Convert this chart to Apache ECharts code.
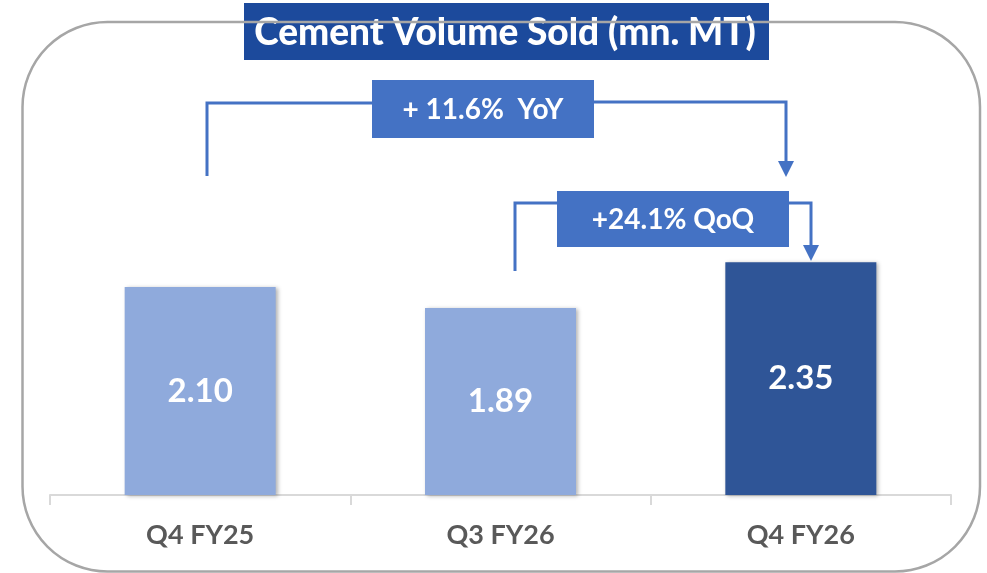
<!DOCTYPE html>
<html>
<head>
<meta charset="utf-8">
<script src="https://cdn.jsdelivr.net/npm/echarts@6/dist/echarts.min.js"></script>
<style>
html,body{margin:0;padding:0;background:#fff;}
#c{width:987px;height:573px;}
</style>
</head>
<body>
<div id="c"></div>
<script>
const titleText = 'Cement Volume Sold (mn. MT)';
const categories = ['Q4 FY25', 'Q3 FY26', 'Q4 FY26'];
const values = [2.10, 1.89, 2.35];
const yoyLabel = '+ 11.6%  YoY';
const qoqLabel = '+24.1% QoQ';

const FONT = 'Lato, "Open Sans", sans-serif';
const LINE = '#4472C4';
const chart = echarts.init(document.getElementById('c'), null, {renderer: 'canvas'});

function poly(points) {
  return {type: 'polyline', z: 5, shape: {points: points},
    style: {stroke: LINE, lineWidth: 3, fill: null}};
}
function arrow(x, yTip) {
  return {type: 'polygon', z: 5, shape: {points: [[x - 8, yTip - 16], [x + 8, yTip - 16], [x, yTip]]},
    style: {fill: LINE}};
}
function box(x, y, w, h, text, size) {
  return {type: 'group', z: 6, children: [
    {type: 'rect', shape: {x: x, y: y, width: w, height: h}, style: {fill: LINE}},
    {type: 'text', x: x + w / 2, y: y + h / 2 + 1,
      style: {text: text, fill: '#fff', font: 'bold ' + size + 'px ' + FONT, align: 'center', verticalAlign: 'middle'}}
  ]};
}

chart.setOption({
  animation: false,
  grid: {left: 50, right: 36, top: 99, bottom: 78},
  xAxis: {
    type: 'category', data: categories,
    axisLine: {lineStyle: {color: '#D9D9D9', width: 2}},
    axisTick: {show: true, length: 10, lineStyle: {color: '#D9D9D9', width: 2}},
    axisLabel: {color: '#595959', fontFamily: FONT, fontWeight: 'bold', fontSize: 27, margin: 27}
  },
  yAxis: {type: 'value', min: 0, max: 4, show: false, splitLine: {show: false}},
  series: [{
    type: 'bar', data: values, barWidth: 151,
    itemStyle: {
      color: p => p.dataIndex === values.length - 1 ? '#2F5597' : '#8FAADC',
      shadowColor: 'rgba(0,0,0,0.3)', shadowBlur: 4, shadowOffsetX: 2, shadowOffsetY: 1
    },
    label: {show: true, position: 'inside', color: '#fff', fontFamily: FONT, fontWeight: 'bold', fontSize: 33,
      formatter: p => p.value.toFixed(2)}
  }],
  graphic: [
    {type: 'rect', z: 1, shape: {x: 22.5, y: 22, width: 957.5, height: 549.5, r: 85},
      style: {stroke: '#A6A6A6', lineWidth: 2.5, fill: null}},
    {type: 'group', z: 10, children: [
      {type: 'rect', shape: {x: 244, y: 3, width: 525, height: 57}, style: {fill: '#1C4A9C'}},
      {type: 'text', x: 505, y: 33, style: {text: titleText, fill: '#fff', font: '900 37px ' + FONT, align: 'center', verticalAlign: 'middle'}}
    ]},
    poly([[207, 176], [207, 103], [372, 103]]),
    poly([[594, 102], [786, 102], [786, 162]]),
    arrow(786, 177),
    box(372, 80, 222, 58, yoyLabel, 28),
    poly([[515, 271], [515, 203], [557, 203]]),
    poly([[789, 203], [811, 203], [811, 246]]),
    arrow(811, 261),
    box(557, 191, 232, 56, qoqLabel, 28)
  ]
});
</script>
</body>
</html>
